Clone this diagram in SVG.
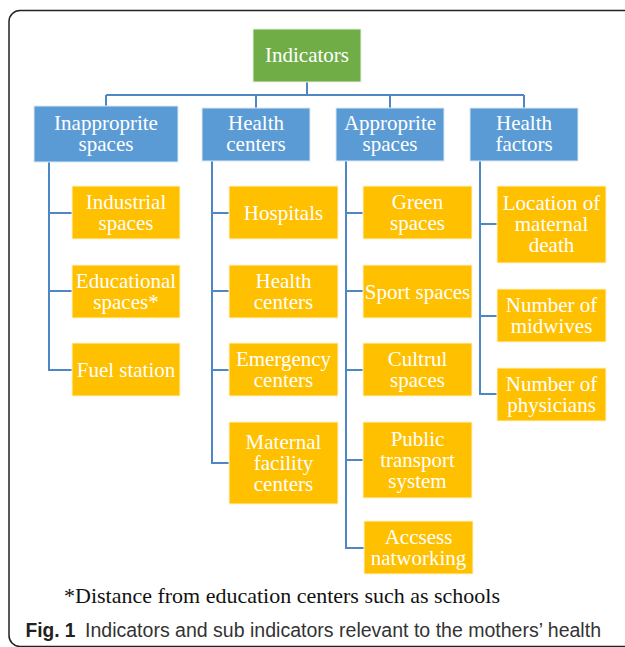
<svg xmlns="http://www.w3.org/2000/svg" width="625" height="647" viewBox="0 0 625 647">
<style>
.bg{fill:#ffffff}
.frame{fill:none;stroke:#222;stroke-width:1.5}
.g{fill:#70AD47;stroke:#e8f2e0;stroke-width:1}
.b{fill:#5B9BD5;stroke:#dbe8f6;stroke-width:1}
.o{fill:#FFC000;stroke:#fff3cc;stroke-width:1}
.t{font-family:"Liberation Serif",serif;font-size:21px;fill:#ffffff;text-anchor:middle}
.c{fill:none;stroke:#4F86C6;stroke-width:2}
.fn{font-family:"Liberation Serif",serif;font-size:21px;fill:#111}
.cap{font-family:"Liberation Sans",sans-serif;font-size:20px;fill:#333}
</style>
<rect class="bg" x="0" y="0" width="625" height="647"/>
<rect class="frame" x="9" y="10.5" width="640" height="636" rx="11"/>
<g id="connectors">
<path class="c" d="M307 82V95M106 95H524M106 95V106M256 95V108M390 95V108M524 95V108"/>
<path class="c" d="M49 162V370H72M49 213H72M49 291H72"/>
<path class="c" d="M212 161V463H229M212 213H229M212 291H229M212 370H229"/>
<path class="c" d="M346 161V548H364M346 213H363M346 291H363M346 370H363M346 460H363"/>
<path class="c" d="M480 161V394H497M480 224H497M480 316H497"/>
</g>
<g id="indicators"><rect class="g" x="253" y="29" width="108" height="53"/><text class="t" x="307" y="62">Indicators</text></g>
<g id="inappropriate"><rect class="b" x="34" y="106" width="144" height="56"/><text class="t" x="106" y="130">Inapproprite</text><text class="t" x="106" y="151">spaces</text></g>
<g id="health-centers"><rect class="b" x="202" y="108" width="108" height="53"/><text class="t" x="256" y="130">Health</text><text class="t" x="256" y="151">centers</text></g>
<g id="appropriate"><rect class="b" x="336" y="108" width="108" height="53"/><text class="t" x="390" y="130">Approprite</text><text class="t" x="390" y="151">spaces</text></g>
<g id="health-factors"><rect class="b" x="470" y="108" width="108" height="53"/><text class="t" x="524" y="130">Health</text><text class="t" x="524" y="151">factors</text></g>

<g id="industrial"><rect class="o" x="72" y="186" width="108" height="53"/><text class="t" x="126" y="208.5">Industrial</text><text class="t" x="126" y="229.5">spaces</text></g>
<g id="educational"><rect class="o" x="72" y="265" width="108" height="53"/><text class="t" x="126" y="287.5">Educational</text><text class="t" x="126" y="308.5">spaces*</text></g>
<g id="fuel"><rect class="o" x="72" y="343" width="108" height="53"/><text class="t" x="126" y="376.5">Fuel station</text></g>

<g id="hospitals"><rect class="o" x="229" y="186" width="109" height="53"/><text class="t" x="283.5" y="219.5">Hospitals</text></g>
<g id="health-centers-sub"><rect class="o" x="229" y="265" width="109" height="53"/><text class="t" x="283.5" y="287.5">Health</text><text class="t" x="283.5" y="308.5">centers</text></g>
<g id="emergency"><rect class="o" x="229" y="343" width="109" height="53"/><text class="t" x="283.5" y="365.5">Emergency</text><text class="t" x="283.5" y="386.5">centers</text></g>
<g id="maternal-facility"><rect class="o" x="229" y="422" width="109" height="82"/><text class="t" x="283.5" y="448.5">Maternal</text><text class="t" x="283.5" y="469.5">facility</text><text class="t" x="283.5" y="490.5">centers</text></g>

<g id="green"><rect class="o" x="363" y="186" width="109" height="53"/><text class="t" x="417.5" y="208.5">Green</text><text class="t" x="417.5" y="229.5">spaces</text></g>
<g id="sport"><rect class="o" x="363" y="265" width="109" height="53"/><text class="t" x="417.5" y="298.5">Sport spaces</text></g>
<g id="cultural"><rect class="o" x="363" y="343" width="109" height="53"/><text class="t" x="417.5" y="365.5">Cultrul</text><text class="t" x="417.5" y="386.5">spaces</text></g>
<g id="transport"><rect class="o" x="363" y="422" width="109" height="76"/><text class="t" x="417.5" y="445.5">Public</text><text class="t" x="417.5" y="466.5">transport</text><text class="t" x="417.5" y="487.5">system</text></g>
<g id="access"><rect class="o" x="364" y="521" width="109" height="53"/><text class="t" x="418.5" y="543.5">Accsess</text><text class="t" x="418.5" y="564.5">natworking</text></g>

<g id="location"><rect class="o" x="497" y="186" width="109" height="77"/><text class="t" x="551.5" y="210">Location of</text><text class="t" x="551.5" y="231">maternal</text><text class="t" x="551.5" y="252">death</text></g>
<g id="midwives"><rect class="o" x="497" y="289" width="109" height="53"/><text class="t" x="551.5" y="311.5">Number of</text><text class="t" x="551.5" y="332.5">midwives</text></g>
<g id="physicians"><rect class="o" x="497" y="368" width="109" height="53"/><text class="t" x="551.5" y="390.5">Number of</text><text class="t" x="551.5" y="411.5">physicians</text></g>

<text class="fn" x="64" y="603" textLength="436" lengthAdjust="spacingAndGlyphs">*Distance from education centers such as schools</text>
<text class="cap" x="25.5" y="637"><tspan font-weight="bold" fill="#222" textLength="50" lengthAdjust="spacingAndGlyphs">Fig. 1</tspan></text>
<text class="cap" x="85" y="637" textLength="516" lengthAdjust="spacingAndGlyphs">Indicators and sub indicators relevant to the mothers’ health</text>
</svg>
